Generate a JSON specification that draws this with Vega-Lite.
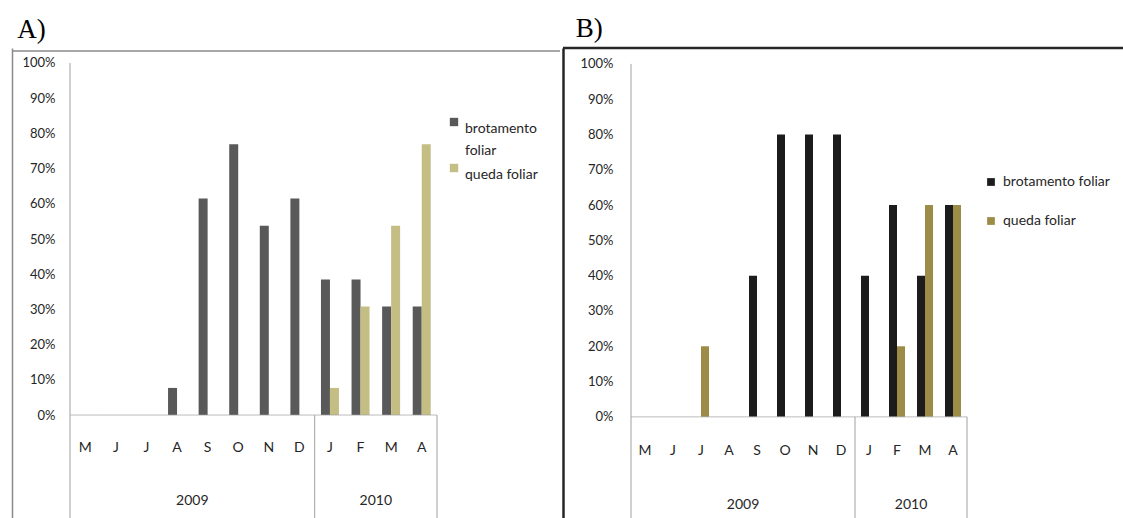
{
  "$schema": "https://vega.github.io/schema/vega-lite/v6.json",
  "padding": {"left": 11, "top": 14, "right": 0, "bottom": 0},
  "autosize": {"type": "pad"},
  "spacing": 0,
  "background": "white",
  "config": {
    "view": {"stroke": null},
    "font": "Lato, Open Sans, sans-serif",
    "style": {"guide-label": {"lineHeight": 22}},
    "axis": {"grid": false, "title": null}
  },
  "resolve": {"scale": {"color": "independent", "x": "independent", "y": "independent", "xOffset": "independent"}, "legend": {"color": "independent"}},
  "datasets": {
    "barsA": [
      {"k": "2009-05", "serie": "brotamento foliar", "v": 0},
      {"k": "2009-06", "serie": "brotamento foliar", "v": 0},
      {"k": "2009-07", "serie": "brotamento foliar", "v": 0},
      {"k": "2009-08", "serie": "brotamento foliar", "v": 0.077},
      {"k": "2009-09", "serie": "brotamento foliar", "v": 0.615},
      {"k": "2009-10", "serie": "brotamento foliar", "v": 0.769},
      {"k": "2009-11", "serie": "brotamento foliar", "v": 0.538},
      {"k": "2009-12", "serie": "brotamento foliar", "v": 0.615},
      {"k": "2010-01", "serie": "brotamento foliar", "v": 0.385},
      {"k": "2010-02", "serie": "brotamento foliar", "v": 0.385},
      {"k": "2010-03", "serie": "brotamento foliar", "v": 0.308},
      {"k": "2010-04", "serie": "brotamento foliar", "v": 0.308},
      {"k": "2009-05", "serie": "queda foliar", "v": 0},
      {"k": "2009-06", "serie": "queda foliar", "v": 0},
      {"k": "2009-07", "serie": "queda foliar", "v": 0},
      {"k": "2009-08", "serie": "queda foliar", "v": 0},
      {"k": "2009-09", "serie": "queda foliar", "v": 0},
      {"k": "2009-10", "serie": "queda foliar", "v": 0},
      {"k": "2009-11", "serie": "queda foliar", "v": 0},
      {"k": "2009-12", "serie": "queda foliar", "v": 0},
      {"k": "2010-01", "serie": "queda foliar", "v": 0.077},
      {"k": "2010-02", "serie": "queda foliar", "v": 0.308},
      {"k": "2010-03", "serie": "queda foliar", "v": 0.538},
      {"k": "2010-04", "serie": "queda foliar", "v": 0.769}
    ],
    "barsB": [
      {"k": "2009-05", "serie": "brotamento foliar", "v": 0},
      {"k": "2009-06", "serie": "brotamento foliar", "v": 0},
      {"k": "2009-07", "serie": "brotamento foliar", "v": 0},
      {"k": "2009-08", "serie": "brotamento foliar", "v": 0},
      {"k": "2009-09", "serie": "brotamento foliar", "v": 0.4},
      {"k": "2009-10", "serie": "brotamento foliar", "v": 0.8},
      {"k": "2009-11", "serie": "brotamento foliar", "v": 0.8},
      {"k": "2009-12", "serie": "brotamento foliar", "v": 0.8},
      {"k": "2010-01", "serie": "brotamento foliar", "v": 0.4},
      {"k": "2010-02", "serie": "brotamento foliar", "v": 0.6},
      {"k": "2010-03", "serie": "brotamento foliar", "v": 0.4},
      {"k": "2010-04", "serie": "brotamento foliar", "v": 0.6},
      {"k": "2009-05", "serie": "queda foliar", "v": 0},
      {"k": "2009-06", "serie": "queda foliar", "v": 0},
      {"k": "2009-07", "serie": "queda foliar", "v": 0.2},
      {"k": "2009-08", "serie": "queda foliar", "v": 0},
      {"k": "2009-09", "serie": "queda foliar", "v": 0},
      {"k": "2009-10", "serie": "queda foliar", "v": 0},
      {"k": "2009-11", "serie": "queda foliar", "v": 0},
      {"k": "2009-12", "serie": "queda foliar", "v": 0},
      {"k": "2010-01", "serie": "queda foliar", "v": 0},
      {"k": "2010-02", "serie": "queda foliar", "v": 0.2},
      {"k": "2010-03", "serie": "queda foliar", "v": 0.6},
      {"k": "2010-04", "serie": "queda foliar", "v": 0.6}
    ],
    "months": [
      {"k": "2009-05", "lbl": "M"}, {"k": "2009-06", "lbl": "J"}, {"k": "2009-07", "lbl": "J"},
      {"k": "2009-08", "lbl": "A"}, {"k": "2009-09", "lbl": "S"}, {"k": "2009-10", "lbl": "O"},
      {"k": "2009-11", "lbl": "N"}, {"k": "2009-12", "lbl": "D"}, {"k": "2010-01", "lbl": "J"},
      {"k": "2010-02", "lbl": "F"}, {"k": "2010-03", "lbl": "M"}, {"k": "2010-04", "lbl": "A"}
    ],
    "years": [
      {"year": "2009", "mid": "2009-08"},
      {"year": "2010", "mid": "2010-02"}
    ],
    "one": [{}]
  },
  "hconcat": [
    {
      "width": 548,
      "height": 473,
      "title": {"text": "A)", "anchor": "start", "font": "Liberation Serif", "fontSize": 27, "fontWeight": "normal", "color": "#000000", "dx": 6, "offset": 4},
      "layer": [
        {
          "data": {"name": "barsA"},
          "mark": {"type": "bar"},
          "encoding": {
            "x": {"field": "k", "type": "nominal",
              "scale": {"domain": ["2009-05","2009-06","2009-07","2009-08","2009-09","2009-10","2009-11","2009-12","2010-01","2010-02","2010-03","2010-04"], "range": [58, 425], "paddingInner": 0, "paddingOuter": 0, "round": false},
              "axis": null},
            "xOffset": {"field": "serie", "type": "nominal", "scale": {"domain": ["brotamento foliar", "queda foliar"], "paddingInner": 0, "paddingOuter": 0.7}},
            "y": {"field": "v", "type": "quantitative",
              "scale": {"domain": [-0.301, 1.0426], "nice": false, "zero": false},
              "axis": {"values": [0, 0.1, 0.2, 0.3, 0.4, 0.5, 0.6, 0.7, 0.8, 0.9, 1], "format": ".0%", "ticks": false, "tickSize": 0, "labelPadding": -43, "labelFontSize": 13, "labelColor": "#262626", "domain": true, "domainColor": "#8a8a8a", "domainWidth": 1.5, "title": null}},
            "y2": {"datum": 0},
            "color": {"field": "serie", "type": "nominal",
              "scale": {"domain": ["brotamento foliar", "queda foliar"], "range": ["#595959", "#c4bd84"]},
              "legend": {"orient": "none", "legendX": 435, "legendY": 67, "title": null, "symbolType": "square", "symbolSize": 70, "symbolStrokeWidth": 0, "labelFontSize": 14, "labelColor": "#262626", "labelBaseline": "top", "labelOffset": 4, "rowPadding": 3, "padding": 0,
                "labelExpr": "datum.label == 'brotamento foliar' ? ['brotamento', 'foliar'] : datum.label"}}
          }
        },
        {
          "data": {"name": "one"},
          "mark": {"type": "rule", "color": "#8a8a8a", "strokeWidth": 1.5},
          "encoding": {"y": {"datum": 1.034}}
        },
        {
          "data": {"name": "months"},
          "mark": {"type": "tick", "orient": "horizontal", "size": 30.6, "thickness": 1, "color": "#a0a0a0"},
          "encoding": {
            "x": {"field": "k", "type": "nominal"},
            "y": {"datum": 0}
          }
        },
        {
          "data": {"name": "one"},
          "mark": {"type": "rule", "color": "#a0a0a0", "strokeWidth": 1},
          "encoding": {
            "x": {"datum": "2009-05", "bandPosition": 0},
            "y": {"datum": 1},
            "y2": {"datum": -0.301}
          }
        },
        {
          "data": {"name": "one"},
          "mark": {"type": "rule", "color": "#a0a0a0", "strokeWidth": 1},
          "encoding": {
            "x": {"datum": "2010-01", "bandPosition": 0},
            "y": {"datum": 0},
            "y2": {"datum": -0.301}
          }
        },
        {
          "data": {"name": "one"},
          "mark": {"type": "rule", "color": "#a0a0a0", "strokeWidth": 1},
          "encoding": {
            "x": {"datum": "2010-04", "bandPosition": 1},
            "y": {"datum": 0},
            "y2": {"datum": -0.301}
          }
        },
        {
          "data": {"name": "months"},
          "mark": {"type": "text", "fontSize": 14, "color": "#262626", "baseline": "middle"},
          "encoding": {
            "x": {"field": "k", "type": "nominal"},
            "y": {"datum": -0.094},
            "text": {"field": "lbl"}
          }
        },
        {
          "data": {"name": "years"},
          "mark": {"type": "text", "fontSize": 14, "color": "#262626", "baseline": "middle"},
          "encoding": {
            "x": {"field": "mid", "type": "nominal", "bandPosition": 1},
            "y": {"datum": -0.244},
            "text": {"field": "year"}
          }
        }
      ]
    },
    {
      "width": 560,
      "height": 473,
      "title": {"text": "B)", "anchor": "start", "font": "Liberation Serif", "fontSize": 27, "fontWeight": "normal", "color": "#000000", "dx": 14, "offset": 4},
      "layer": [
        {
          "data": {"name": "barsB"},
          "mark": {"type": "bar"},
          "encoding": {
            "x": {"field": "k", "type": "nominal",
              "scale": {"domain": ["2009-05","2009-06","2009-07","2009-08","2009-09","2009-10","2009-11","2009-12","2010-01","2010-02","2010-03","2010-04"], "range": [68, 404], "paddingInner": 0, "paddingOuter": 0, "round": false},
              "axis": null},
            "xOffset": {"field": "serie", "type": "nominal", "scale": {"domain": ["brotamento foliar", "queda foliar"], "paddingInner": 0, "paddingOuter": 0.75}},
            "y": {"field": "v", "type": "quantitative",
              "scale": {"domain": [-0.295, 1.045], "nice": false, "zero": false},
              "axis": {"values": [0, 0.1, 0.2, 0.3, 0.4, 0.5, 0.6, 0.7, 0.8, 0.9, 1], "format": ".0%", "ticks": false, "tickSize": 0, "labelPadding": -50, "labelFontSize": 13, "labelColor": "#262626", "domain": true, "domainColor": "#262626", "domainWidth": 2.5, "title": null}},
            "y2": {"datum": 0},
            "color": {"field": "serie", "type": "nominal",
              "scale": {"domain": ["brotamento foliar", "queda foliar"], "range": ["#1c1c1c", "#9c8c48"]},
              "legend": {"orient": "none", "legendX": 421, "legendY": 127, "title": null, "symbolType": "square", "symbolSize": 60, "symbolStrokeWidth": 0, "labelFontSize": 14, "labelColor": "#262626", "labelOffset": 5, "rowPadding": 25, "padding": 0}}
          }
        },
        {
          "data": {"name": "one"},
          "mark": {"type": "rule", "color": "#262626", "strokeWidth": 2.5},
          "encoding": {"y": {"datum": 1.045}}
        },
        {
          "data": {"name": "months"},
          "mark": {"type": "tick", "orient": "horizontal", "size": 28, "thickness": 1, "color": "#a0a0a0"},
          "encoding": {
            "x": {"field": "k", "type": "nominal"},
            "y": {"datum": 0}
          }
        },
        {
          "data": {"name": "one"},
          "mark": {"type": "rule", "color": "#a0a0a0", "strokeWidth": 1},
          "encoding": {
            "x": {"datum": "2009-05", "bandPosition": 0},
            "y": {"datum": 1},
            "y2": {"datum": -0.295}
          }
        },
        {
          "data": {"name": "one"},
          "mark": {"type": "rule", "color": "#a0a0a0", "strokeWidth": 1},
          "encoding": {
            "x": {"datum": "2010-01", "bandPosition": 0},
            "y": {"datum": 0},
            "y2": {"datum": -0.295}
          }
        },
        {
          "data": {"name": "one"},
          "mark": {"type": "rule", "color": "#a0a0a0", "strokeWidth": 1},
          "encoding": {
            "x": {"datum": "2010-04", "bandPosition": 1},
            "y": {"datum": 0},
            "y2": {"datum": -0.295}
          }
        },
        {
          "data": {"name": "months"},
          "mark": {"type": "text", "fontSize": 14, "color": "#262626", "baseline": "middle"},
          "encoding": {
            "x": {"field": "k", "type": "nominal"},
            "y": {"datum": -0.096},
            "text": {"field": "lbl"}
          }
        },
        {
          "data": {"name": "years"},
          "mark": {"type": "text", "fontSize": 14, "color": "#262626", "baseline": "middle"},
          "encoding": {
            "x": {"field": "mid", "type": "nominal", "bandPosition": 1},
            "y": {"datum": -0.25},
            "text": {"field": "year"}
          }
        }
      ]
    }
  ]
}
